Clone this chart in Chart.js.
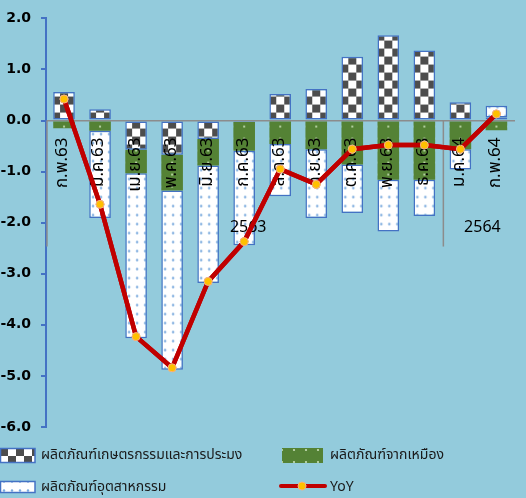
<!DOCTYPE html>
<html>
<head>
<meta charset="utf-8">
<script src="https://cdn.jsdelivr.net/npm/chart.js@4.4.1/dist/chart.umd.min.js"></script>
<style>
  html, body { margin: 0; padding: 0; background: #93cbdc; }
  #wrap { width: 526px; height: 498px; position: relative; }
</style>
</head>
<body>
<div id="wrap"><canvas id="chart" width="526" height="498"></canvas></div>
<script>
// Contribution to YoY, by product group
var categories = ['ก.พ.63', 'มี.ค.63', 'เม.ย.63', 'พ.ค.63', 'มิ.ย.63', 'ก.ค.63', 'ส.ค.63',
                  'ก.ย.63', 'ต.ค.63', 'พ.ย.63', 'ธ.ค.63', 'ม.ค.64', 'ก.พ.64'];
var agriValues = [0.56, 0.22, -0.57, -0.67, -0.36, -0.03, 0.52, 0.62, 1.25, 1.67, 1.37, 0.36, 0.06];
var miningValues = [-0.15, -0.20, -0.46, -0.70, -0.52, -0.56, -0.46, -0.56, -0.86, -1.16, -1.16, -0.56, -0.19];
var industryValues = [null, -1.71, -3.23, -3.51, -2.30, -1.85, -1.02, -1.35, -0.95, -1.01, -0.71, -0.40, 0.23];
var yoyValues = [0.42, -1.64, -4.23, -4.84, -3.15, -2.37, -0.95, -1.25, -0.56, -0.48, -0.48, -0.56, 0.13];
var years = ['2563', '2564'];
var yearCounts = [11, 2];
var yTicks = { min: -6, max: 2, step: 1 };

var seriesNames = ['ผลิตภัณฑ์เกษตรกรรมและการประมง', 'ผลิตภัณฑ์จากเหมือง', 'ผลิตภัณฑ์อุตสาหกรรม', 'YoY'];

(function () {
  "use strict";
  var thaiFont, blue, tiles, patterns, yearPlugin, legendPlugin;

  thaiFont = "Tahoma, 'Noto Sans Thai', 'Noto Sans', 'DejaVu Sans', sans-serif";
  blue = '#4472c4';

  // small canvases used as repeating fills
  function tile(w, h, draw) {
    var c = document.createElement('canvas');
    c.width = w;
    c.height = h;
    draw(c.getContext('2d'));
    return c;
  }

  function dot(ctx, x, y, r) {
    ctx.beginPath();
    ctx.arc(x, y, r, 0, Math.PI * 2);
    ctx.fill();
  }

  tiles = {
    checker: tile(16, 16, function (ctx) {
      ctx.fillStyle = '#ffffff';
      ctx.fillRect(0, 0, 16, 16);
      ctx.fillStyle = '#4d4d4d';
      ctx.fillRect(0, 0, 8, 8);
      ctx.fillRect(8, 8, 8, 8);
    }),
    green: tile(12, 12, function (ctx) {
      ctx.fillStyle = '#548235';
      ctx.fillRect(0, 0, 12, 12);
      ctx.fillStyle = '#c9e0b8';
      dot(ctx, 6, 6, 1.1);
    }),
    dots: tile(8, 9, function (ctx) {
      ctx.fillStyle = '#ffffff';
      ctx.fillRect(0, 0, 8, 9);
      ctx.fillStyle = '#7aaade';
      dot(ctx, 4, 4.5, 1.2);
    })
  };

  // plain patterns for the legend swatches
  patterns = {};
  Object.keys(tiles).forEach(function (k) {
    patterns[k] = document.createElement('canvas').getContext('2d').createPattern(tiles[k], 'repeat');
  });

  // fill that starts at each bar, like the office charts do
  function barFill(name, dx) {
    return function (c) {
      var chart = c.chart, xs = chart.scales.x, ys = chart.scales.y, p, x0, y0;
      p = chart.ctx.createPattern(tiles[name], 'repeat');
      if (xs && ys && c.dataIndex !== undefined) {
        x0 = xs.getPixelForValue(c.dataIndex) + dx;
        y0 = ys.getPixelForValue(0);
        if (isFinite(x0) && isFinite(y0)) {
          p.setTransform(new DOMMatrix().translate(x0, y0));
        }
      }
      return p;
    };
  }

  // second level of the category axis: years; then the YoY line again over the labels
  yearPlugin = {
    id: 'years',
    afterDraw: function (chart) {
      var ctx = chart.ctx, xs = chart.scales.x, ys = chart.scales.y;
      var zeroY = ys.getPixelForValue(0), start = 0, i, x, cx;
      ctx.save();
      ctx.strokeStyle = '#8c8c8c';
      ctx.lineWidth = 1.5;
      ctx.fillStyle = '#000000';
      ctx.font = "16px " + thaiFont;
      ctx.textAlign = 'center';
      ctx.textBaseline = 'middle';
      for (i = 0; i < years.length; i += 1) {
        x = xs.getPixelForValue(start - 0.5);
        if (x < chart.chartArea.right - 2) {
          ctx.beginPath();
          ctx.moveTo(x + 1, zeroY);
          ctx.lineTo(x + 1, zeroY + 126);
          ctx.stroke();
        }
        cx = (xs.getPixelForValue(start - 0.5) + xs.getPixelForValue(start + yearCounts[i] - 0.5)) / 2;
        ctx.fillText(years[i], cx + 4, zeroY + 108);
        start += yearCounts[i];
      }
      ctx.restore();
      chart.getDatasetMeta(0).controller.draw();
    }
  };

  // two-column legend under the plot
  legendPlugin = {
    id: 'gridLegend',
    afterDraw: function (chart) {
      var ctx = chart.ctx;
      ctx.save();
      ctx.font = "14px " + thaiFont;
      ctx.textBaseline = 'middle';
      ctx.textAlign = 'left';

      ctx.fillStyle = patterns.checker;
      ctx.fillRect(0, 448, 35, 15);
      ctx.strokeStyle = blue;
      ctx.lineWidth = 1.5;
      ctx.strokeRect(0.5, 448.5, 34.5, 14);

      ctx.fillStyle = patterns.green;
      ctx.fillRect(282, 448, 41, 15);

      ctx.fillStyle = patterns.dots;
      ctx.fillRect(0, 481, 35, 12);
      ctx.strokeRect(0.5, 481.5, 34.5, 11);

      ctx.strokeStyle = '#c00000';
      ctx.lineWidth = 4;
      ctx.lineCap = 'round';
      ctx.beginPath();
      ctx.moveTo(281, 486);
      ctx.lineTo(325, 486);
      ctx.stroke();
      ctx.fillStyle = '#ffc000';
      ctx.strokeStyle = '#f4b183';
      ctx.lineWidth = 1;
      ctx.beginPath();
      ctx.arc(302, 486, 4, 0, Math.PI * 2);
      ctx.fill();
      ctx.stroke();

      ctx.fillStyle = '#1a1a1a';
      ctx.fillText(seriesNames[0], 41, 456);
      ctx.fillText(seriesNames[1], 330, 456);
      ctx.fillText(seriesNames[2], 41, 488);
      ctx.fillText(seriesNames[3], 330, 488);
      ctx.restore();
    }
  };

  function barSet(label, data, fill, border) {
    return {
      type: 'bar',
      label: label,
      data: data,
      backgroundColor: fill,
      borderColor: border || 'rgba(0,0,0,0)',
      borderWidth: border ? 1.5 : 0,
      borderSkipped: false,
      stack: 'contrib',
      order: 1,
      barPercentage: 0.6,
      categoryPercentage: 1.0
    };
  }

  new Chart(document.getElementById('chart'), {
    data: {
      labels: categories,
      datasets: [
        {
          type: 'line',
          label: seriesNames[3],
          data: yoyValues,
          borderColor: '#c00000',
          borderWidth: 4.5,
          pointRadius: 4,
          pointBackgroundColor: '#ffc000',
          pointBorderColor: '#f4b183',
          pointBorderWidth: 1,
          tension: 0,
          order: 0
        },
        barSet(seriesNames[0], agriValues, barFill('checker', -4), blue),
        barSet(seriesNames[1], miningValues, barFill('green', -6), null),
        barSet(seriesNames[2], industryValues, barFill('dots', -11), blue)
      ]
    },
    options: {
      responsive: false,
      animation: false,
      layout: { padding: { top: 16, bottom: 71, left: 0, right: 0 } },
      plugins: {
        legend: { display: false },
        tooltip: { enabled: false }
      },
      scales: {
        x: {
          stacked: true,
          position: { y: 0 },
          offset: true,
          grid: { display: false },
          border: { display: true, color: '#8c8c8c', width: 1.5 },
          ticks: {
            z: 1,
            minRotation: 90,
            maxRotation: 90,
            autoSkip: false,
            padding: 9,
            color: '#000000',
            font: { family: thaiFont, size: 17 }
          }
        },
        y: {
          stacked: true,
          min: yTicks.min,
          max: yTicks.max,
          afterFit: function (scale) { scale.width = 46; },
          grid: { drawOnChartArea: false, drawTicks: true, tickLength: 5, color: blue, lineWidth: 2 },
          border: { display: true, color: blue, width: 2 },
          ticks: {
            stepSize: yTicks.step,
            padding: 10,
            color: '#000000',
            font: { family: "'DejaVu Sans', sans-serif", size: 14, weight: 'bold' },
            callback: function (v) { return Number(v).toFixed(1); }
          }
        }
      }
    },
    plugins: [yearPlugin, legendPlugin]
  });
})();
</script>
</body>
</html>
